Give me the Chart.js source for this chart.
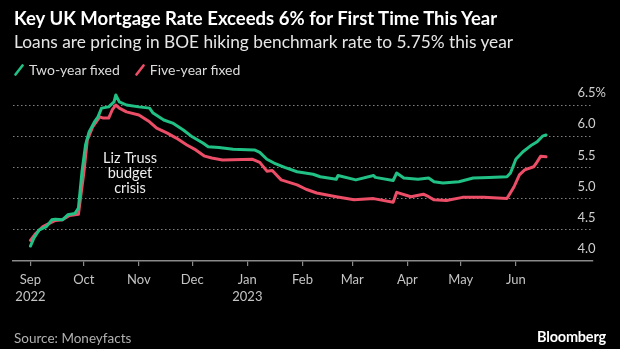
<!DOCTYPE html>
<html>
<head>
<meta charset="utf-8">
<script src="https://cdn.jsdelivr.net/npm/chart.js@4.4.1/dist/chart.umd.min.js"></script>
<style>
  html, body { margin: 0; padding: 0; background: #000; }
  #wrap { position: relative; width: 620px; height: 349px; background: #000; overflow: hidden; font-family: Lato, "Open Sans", sans-serif; }
  #chart { position: absolute; left: 0; top: 0; }
  .txt { position: absolute; white-space: nowrap; }
  #title { left: 14px; top: 7px; font-size: 18.5px; font-weight: 700; color: #fff; line-height: 22px; }
  #subtitle { left: 14px; top: 32px; font-size: 17.3px; color: #e6e6e6; line-height: 20px; }
  #legend { left: 14px; top: 61px; font-size: 14px; color: #dcdcdc; line-height: 18px; display: flex; }
  #legend .item { display: flex; align-items: center; margin-right: 15px; }
  #legend svg { margin-right: 5px; }
  #source { left: 14px; top: 329px; font-size: 13.5px; color: #b0b0b0; line-height: 18px; }
  #brand { right: 14px; top: 328px; font-size: 14.5px; font-weight: 700; color: #fff; line-height: 18px; letter-spacing: -0.2px; }
</style>
</head>
<body>
<div id="wrap">
  <canvas id="chart" width="620" height="349"></canvas>
  <div class="txt" id="title">Key UK Mortgage Rate Exceeds 6% for First Time This Year</div>
  <div class="txt" id="subtitle">Loans are pricing in BOE hiking benchmark rate to 5.75% this year</div>
  <div class="txt" id="legend"></div>
  <div class="txt" id="source">Source: Moneyfacts</div>
  <div class="txt" id="brand">Bloomberg</div>
</div>
<script>
// ---- data ----
const seriesNames = ['Two-year fixed', 'Five-year fixed'];

const twoYearDates = [
  '2022-09-01','2022-09-03','2022-09-06','2022-09-10','2022-09-13','2022-09-15','2022-09-19','2022-09-22','2022-09-26','2022-09-28',
  '2022-09-29','2022-09-30','2022-10-02','2022-10-04','2022-10-07','2022-10-09','2022-10-11','2022-10-15','2022-10-18','2022-10-19',
  '2022-10-21','2022-10-25','2022-11-01','2022-11-07','2022-11-09','2022-11-15','2022-11-20','2022-11-26','2022-12-01','2022-12-07',
  '2022-12-10','2022-12-16','2022-12-24','2023-01-05','2023-01-08','2023-01-12','2023-01-16','2023-01-22','2023-01-29','2023-02-07',
  '2023-02-11','2023-02-20','2023-02-21','2023-03-03','2023-03-13','2023-03-14','2023-03-24','2023-03-26','2023-03-30','2023-04-07',
  '2023-04-13','2023-04-16','2023-04-21','2023-04-30','2023-05-08','2023-05-17','2023-05-27','2023-05-29','2023-06-01','2023-06-05',
  '2023-06-10','2023-06-13','2023-06-16','2023-06-18'
];
const twoYearValues = [
  4.24,4.37,4.50,4.55,4.66,4.67,4.66,4.74,4.76,4.85,
  5.14,5.43,5.86,6.07,6.23,6.31,6.45,6.47,6.55,6.66,
  6.55,6.50,6.47,6.45,6.37,6.26,6.21,6.10,5.99,5.89,
  5.83,5.82,5.79,5.78,5.74,5.63,5.57,5.50,5.43,5.39,
  5.35,5.31,5.37,5.30,5.37,5.34,5.29,5.41,5.33,5.31,
  5.33,5.27,5.25,5.27,5.33,5.34,5.35,5.41,5.63,5.75,
  5.86,5.91,6.00,6.02
];

const fiveYearDates = [
  '2022-09-01','2022-09-04','2022-09-08','2022-09-15','2022-09-19','2022-09-23','2022-09-28','2022-09-30','2022-10-01','2022-10-03',
  '2022-10-06','2022-10-10','2022-10-12','2022-10-15','2022-10-17','2022-10-19','2022-10-21','2022-10-25','2022-11-01','2022-11-07',
  '2022-11-11','2022-11-17','2022-11-22','2022-11-28','2022-12-03','2022-12-08','2022-12-12','2022-12-18','2023-01-04','2023-01-08',
  '2023-01-12','2023-01-15','2023-01-20','2023-01-29','2023-02-03','2023-02-09','2023-02-20','2023-03-02','2023-03-13','2023-03-24',
  '2023-03-26','2023-04-03','2023-04-10','2023-04-13','2023-04-16','2023-04-23','2023-05-02','2023-05-14','2023-05-27','2023-05-31',
  '2023-06-03','2023-06-06','2023-06-11','2023-06-13','2023-06-15','2023-06-18'
];
const fiveYearValues = [
  4.33,4.44,4.55,4.65,4.66,4.73,4.75,5.19,5.40,5.94,
  6.15,6.31,6.29,6.29,6.42,6.50,6.45,6.39,6.34,6.23,
  6.13,6.05,5.97,5.86,5.78,5.68,5.65,5.62,5.63,5.58,
  5.44,5.45,5.30,5.22,5.15,5.09,5.03,4.98,5.00,4.94,
  5.10,5.03,5.07,5.03,4.98,4.97,5.02,5.02,5.00,5.19,
  5.38,5.46,5.51,5.59,5.68,5.67
];

const monthTickDates = ['2022-09-01','2022-10-01','2022-11-01','2022-12-01','2023-01-01','2023-02-01','2023-03-01','2023-04-01','2023-05-01','2023-06-01'];
const monthTickLabels = [['Sep','2022'],'Oct','Nov','Dec',['Jan','2023'],'Feb','Mar','Apr','May','Jun'];
const yTickValues = [4.0, 4.5, 5.0, 5.5, 6.0, 6.5];
const annotationLines = ['Liz Truss', 'budget', 'crisis'];
const annotationDate = '2022-10-27';
const annotationValue = 5.65;
const xStartDate = '2022-08-23';
const xEndDate = '2023-07-14';

// ---- helpers ----
const origin = Date.UTC(2022, 8, 1);
function dayOf(s) {
  const [y, m, d] = s.split('-').map(Number);
  return (Date.UTC(y, m - 1, d) - origin) / 86400000;
}
function pts(dates, vals) { return dates.map((d, i) => ({ x: dayOf(d), y: vals[i] })); }

const colors = ['#21c085', '#ec4d67'];
const FONT = 'Lato, "Open Sans", sans-serif';

const annotationPlugin = {
  id: 'annot',
  afterDatasetsDraw(chart) {
    const { ctx, scales } = chart;
    const x = scales.x.getPixelForValue(dayOf(annotationDate));
    const y = scales.y.getPixelForValue(annotationValue);
    ctx.save();
    ctx.font = '14.5px ' + FONT;
    ctx.fillStyle = '#eeeeee';
    ctx.textAlign = 'center';
    ctx.textBaseline = 'middle';
    annotationLines.forEach((t, i) => ctx.fillText(t, x, y + i * 15));
    ctx.restore();
  }
};

const chart = new Chart(document.getElementById('chart'), {
  type: 'line',
  data: {
    datasets: [
      { label: seriesNames[0], data: pts(twoYearDates, twoYearValues), borderColor: colors[0], backgroundColor: colors[0], borderWidth: 3, pointRadius: 0, tension: 0, borderJoinStyle: 'round', borderCapStyle: 'round' },
      { label: seriesNames[1], data: pts(fiveYearDates, fiveYearValues), borderColor: colors[1], backgroundColor: colors[1], borderWidth: 3, pointRadius: 0, tension: 0, borderJoinStyle: 'round', borderCapStyle: 'round' }
    ]
  },
  options: {
    responsive: false,
    animation: false,
    devicePixelRatio: 1,
    layout: { padding: { top: 89.4, left: 13, right: 0, bottom: 48 } },
    plugins: { legend: { display: false }, tooltip: { enabled: false } },
    scales: {
      x: {
        type: 'linear',
        min: dayOf(xStartDate) - 0.8,
        max: dayOf(xEndDate) + 0.4,
        afterBuildTicks: (s) => { s.ticks = monthTickDates.map(d => ({ value: dayOf(d) })); },
        afterFit: (s) => { s.height = 40; },
        border: { display: true, color: '#8a8a8a', width: 1.5 },
        grid: { drawOnChartArea: false, drawTicks: true, tickLength: 5, color: '#8a8a8a', lineWidth: 1.2 },
        ticks: {
          autoSkip: false, maxRotation: 0, padding: 5,
          color: '#c4c4c4',
          font: { family: FONT, size: 13, lineHeight: 1.3 },
          callback: (v, i) => monthTickLabels[i]
        }
      },
      y: {
        type: 'linear',
        position: 'right',
        min: 4,
        max: 6.75,
        afterBuildTicks: (s) => { s.ticks = yTickValues.map(v => ({ value: v })); },
        afterFit: (s) => { s.width = 27; },
        border: { display: false, dash: [1.5, 2.5] },
        grid: {
          drawTicks: false,
          color: (c) => c.tick && c.tick.value === 4 ? 'rgba(0,0,0,0)' : '#808080',
          lineWidth: 1
        },
        ticks: {
          mirror: true,
          crossAlign: 'far',
          padding: 13,
          labelOffset: -12,
          color: '#cfcfcf',
          font: { family: FONT, size: 13 },
          callback: (v) => v === 6.5 ? v.toFixed(1) + '%' : v.toFixed(1)
        }
      }
    }
  },
  plugins: [annotationPlugin]
});

// HTML legend built from the chart's datasets
const legendEl = document.getElementById('legend');
chart.data.datasets.forEach((ds) => {
  const item = document.createElement('span');
  item.className = 'item';
  item.innerHTML = '<svg width="10" height="12" viewBox="0 0 10 12"><line x1="1.5" y1="10.5" x2="8.5" y2="1.5" stroke="' + ds.borderColor + '" stroke-width="2.6" stroke-linecap="round"/></svg>';
  const t = document.createElement('span');
  t.textContent = ds.label;
  item.appendChild(t);
  legendEl.appendChild(item);
});
</script>
</body>
</html>
